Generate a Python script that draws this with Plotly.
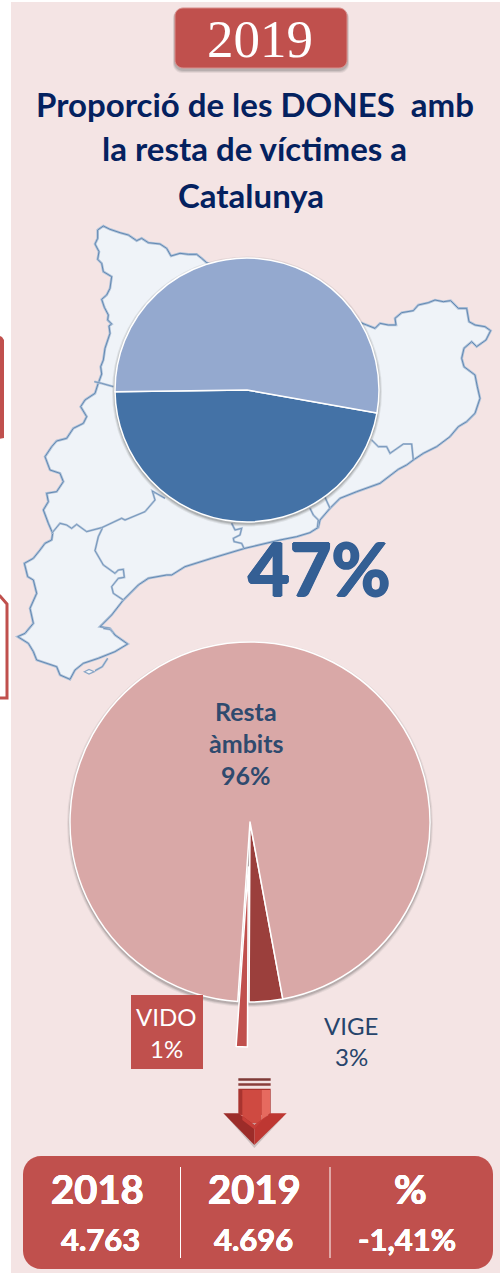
import plotly.graph_objects as go

W, H = 500, 1277
RED = "#C0504D"
BG = "#F4E4E4"
NAVY = "#04215F"

# --- data ---
year = "2019"
title_lines = ["Proporció de les DONES  amb", "la resta de víctimes a", "Catalunya"]
share_labels = ["DONES", "Resta"]
share_values = [47, 53]
share_text = "47%"
area_labels = ["VIGE", "VIDO", "Resta àmbits"]
area_values = [3, 1, 96]
table_head = ["2018", "2019", "%"]
table_vals = ["4.763", "4.696", "-1,41%"]

outer_runs = [
 (85, 220, [(50,462),(47,440),(55,420),(60,385),(75,340),(72,318),(80,312),(68,300),(70,285),(58,262),(50,238),(65,225),(75,205),(80,170),(55,155),(50,130),(38,118),(42,95),(30,72),(38,55),(38,30),(55,18),(75,28),(105,38),(130,45),(155,62),(170,55),(190,68),(225,72),(245,85),(258,108),(285,100),(310,103),(335,103),(350,115),(365,128)]),
 (360, 290, [(20,105),(45,115),(60,100),(85,105),(108,105),(105,85),(125,68),(160,62),(175,45),(205,38),(225,30),(250,35),(272,32),(295,55),(320,55),(327,95),(345,105),(375,110),(392,122),(378,150),(350,170),(335,155),(312,175),(305,205),(312,230),(345,255),(352,290),(360,325),(345,370),(320,395),(295,410),(270,440),(230,470),(190,490),(160,510),(140,525),(115,538)]),
 (170, 440, [(630,130),(560,155),(510,175),(480,205),(450,240),(445,262),(420,278),(380,290),(330,300),(225,325),(125,355)]),
 (15, 520, [(510,140),(470,165),(455,165),(400,175),(370,195),(325,240),(290,285),(255,320),(285,325),(300,345),(338,372),(300,395),(250,415),(205,430),(180,450),(165,478),(135,465),(125,440),(65,420),(55,395),(40,370),(8,350),(30,340),(55,310),(45,265),(65,220),(55,180),(38,170),(28,130),(55,115),(75,90),(90,70),(110,60),(113,40),(100,10)]),
 (15, 385, [(85,375),(100,350),(95,325),(125,320),(145,290),(135,265),(105,255),(90,215),(110,185),(125,168),(155,160),(175,130),(205,115),(215,95),(197,65),(210,45),(240,25),(248,0)]),
]
inner_runs = [
 (85, 220, [(28,485),(50,490),(85,500)]),
 (15, 385, [(110,445),(135,415),(155,420),(170,430),(185,418),(215,440),(260,428),(320,400),(330,405),(390,380),(420,345),(412,318),(450,340)]),
 (15, 520, [(262,25),(250,50),(240,92),(265,135),(300,160),(310,150),(325,148),(328,172),(310,175),(290,200),(295,220),(325,240)]),
 (15, 520, [(240,452),(262,440),(278,415)]),
 (15, 520, [(265,325),(285,328),(295,338)]),
 (360, 290, [(35,450),(55,470),(80,470),(90,490),(130,462),(155,462),(160,510)]),
 (170, 440, [(185,250),(195,270),(215,265),(210,285),(190,295),(192,305),(215,310),(222,325)]),
 (170, 440, [(420,205),(430,225),(445,240),(442,262)]),
 (170, 440, [(465,172),(480,205)]),
]
island = (15, 520, [(208,455),(222,448),(238,455),(222,462)])

def px(x): return x / W
def py(y): return 1 - y / H
def absrun(run): return [(run[0] + x / 3, run[1] + y / 3) for x, y in run[2]]

def poly(pts, close=True):
    s = "M" + " L".join(f"{px(x):.5f},{py(y):.5f}" for x, y in pts)
    return s + (" Z" if close else "")

def rrect_path(x0, y0, x1, y1, r):
    k = r * 0.45
    P = lambda x, y: f"{px(x):.5f},{py(y):.5f}"
    return (f"M{P(x0+r,y0)} L{P(x1-r,y0)} C{P(x1-k,y0)} {P(x1,y0+k)} {P(x1,y0+r)} "
            f"L{P(x1,y1-r)} C{P(x1,y1-k)} {P(x1-k,y1)} {P(x1-r,y1)} "
            f"L{P(x0+r,y1)} C{P(x0+k,y1)} {P(x0,y1-k)} {P(x0,y1-r)} "
            f"L{P(x0,y0+r)} C{P(x0,y0+k)} {P(x0+k,y0)} {P(x0+r,y0)} Z")

shapes = []
def rect(x0, y0, x1, y1, fill, line=None, lw=0, layer="below"):
    shapes.append(dict(type="rect", xref="paper", yref="paper", x0=px(x0), x1=px(x1), y0=py(y0), y1=py(y1),
                       fillcolor=fill, line=dict(color=line or fill, width=lw), layer=layer))
def path(d, fill=None, line=None, lw=0, layer="below", opacity=1):
    shapes.append(dict(type="path", xref="paper", yref="paper", path=d, fillcolor=fill or "rgba(0,0,0,0)",
                       line=dict(color=line or "rgba(0,0,0,0)", width=lw), layer=layer, opacity=opacity))
def circle(cx, cy, r, fill, opacity=1, layer="below"):
    shapes.append(dict(type="circle", xref="paper", yref="paper", x0=px(cx-r), x1=px(cx+r), y0=py(cy-r), y1=py(cy+r),
                       fillcolor=fill, line=dict(width=0), layer=layer, opacity=opacity))

# background panel
rect(11, 2, 500, 1273, BG)
# clipped neighbours at the left edge
path(poly([(-2,335),(2,337),(4,340),(4,438),(-2,439)]), fill=RED)
path(poly([(-4,596),(0,596),(7,604),(7,698),(-4,698)]), fill="#FFFFFF", line=RED, lw=3)

# header
for d, o in ((4, 0.10), (3, 0.14), (2, 0.18)):
    path(rrect_path(175-d/2, 8+1, 347+d/2, 69+d, 9), fill="#555555", opacity=o)
path(rrect_path(175, 8, 347, 68, 8), fill=RED, line="#D98F8D", lw=1)

# map
outer = [p for run in outer_runs for p in absrun(run)]
path(poly(outer), fill="#EFF3F8", line="#AFC2D9", lw=2.6)
path(poly(outer), line="#6389B3", lw=1)
for run in inner_runs:
    path(poly(absrun(run), close=False), line="#AFC2D9", lw=2.2)
    path(poly(absrun(run), close=False), line="#6F92B8", lw=0.9)
path(poly(absrun(island)), fill="#EFF3F8", line="#8AA6C6", lw=1.2)

# pie shadows
for d, o in ((3, 0.10), (2, 0.14), (1, 0.2)):
    circle(247, 391.5, 132 + d, "#444444", o)
for d, o in ((3, 0.08), (2, 0.12), (1, 0.18)):
    circle(250, 824, 180 + d, "#444444", o)

# arrow (points in the 3x crop at 215,1070)
Ap = lambda pts, **kw: path(poly([(215 + x/3, 1070 + y/3) for x, y in pts]), **kw)
Ap([(35,140),(205,140),(118,234)], fill="#555555", opacity=0.25)
Ap([(70,25),(167,25),(167,32),(70,32)], fill="#7E3936")
Ap([(70,40),(167,40),(167,47),(70,47)], fill="#8A3F3C")
Ap([(70,56),(167,56),(167,135),(70,135)], fill="#A8342F")
Ap([(82,60),(140,60),(140,160),(82,160)], fill="#CF4A41")
Ap([(140,60),(165,60),(165,130),(140,152)], fill="#E66A5F")
Ap([(25,130),(70,130),(118,165),(118,225)], fill="#9C2C29")
Ap([(215,130),(167,130),(118,165),(118,225)], fill="#BE3732")
Ap([(70,130),(82,135),(82,150),(118,178),(140,152),(167,130),(118,165)], fill="#C63E38")

# VIDO label box
rect(131, 995, 203, 1069, RED, layer="above")

# bottom table
path(rrect_path(23, 1156, 493, 1269, 18), fill=RED)
for x in (180.5, 330):
    rect(x-0.5, 1167, x+0.5, 1258, "#FFFFFF")

fig = go.Figure()
fig.add_trace(go.Pie(
    labels=share_labels, values=share_values, sort=False, direction="clockwise", rotation=100,
    marker=dict(colors=["#4472A6", "#94A9CF"], line=dict(color="#FFFFFF", width=1.5)),
    textinfo="none", hoverinfo="label+percent", showlegend=False,
    domain=dict(x=[px(247-132), px(247+132)], y=[py(390+132), py(390-132)]),
))
fig.add_trace(go.Pie(
    labels=area_labels, values=area_values, sort=False, direction="clockwise", rotation=169.5,
    pull=[0, 0.25, 0],
    marker=dict(colors=["#9B3F3C", "#C0504D", "#D9A8A7"], line=dict(color="#FFFFFF", width=1.5)),
    textinfo="none", hoverinfo="label+percent", showlegend=False,
    domain=dict(x=[px(250-225), px(250+225)], y=[py(822+225), py(822-225)]),
))

annotations = []
def text(x, y, s, size, color, family="Lato", bold=False, heavy=0):
    f = dict(size=size, color=color, family=family)
    if heavy:
        f["shadow"] = f"{heavy}px 0 0 {color}, -{heavy}px 0 0 {color}, 0 {heavy}px 0 {color}, 0 -{heavy}px 0 {color}"
    annotations.append(dict(xref="paper", yref="paper", x=px(x), y=py(y), xanchor="center", yanchor="middle",
                            text=f"<b>{s}</b>" if bold else s, showarrow=False, font=f))

text(260, 39, year, 53, "#FFFFFF", family="Liberation Serif")
for s, x, y in zip(title_lines, (255, 254, 251), (104, 148, 195)):
    text(x, y, s, 33, NAVY, bold=True)
text(319, 568, share_text, 72, "#345F94", bold=True, heavy=1)
text(246, 711, "Resta", 25, "#2F4A6E", bold=True)
text(246, 743, "àmbits", 25, "#2F4A6E", bold=True)
text(246, 775, f"{area_values[2]}%", 25, "#2F4A6E", bold=True)
text(166, 1017, area_labels[1], 24, "#FFFFFF")
text(166, 1048, f"{area_values[1]}%", 24, "#FFFFFF")
text(351, 1025, area_labels[0], 24, "#27446B")
text(351, 1056, f"{area_values[0]}%", 24, "#27446B")
for s, x in zip(table_head, (97, 254, 410)):
    text(x, 1189, s, 40, "#FFFFFF", bold=True, heavy=0.4)
for s, x in zip(table_vals, (100, 253, 407)):
    text(x, 1239, s, 31, "#FFFFFF", bold=True, heavy=0.3)

fig.update_layout(width=W, height=H, margin=dict(l=0, r=0, t=0, b=0), autosize=False,
                  paper_bgcolor="#FFFFFF", plot_bgcolor="#FFFFFF", shapes=shapes, annotations=annotations)
fig.write_html("out.html", config={"displayModeBar": False},
               post_script="document.body.style.margin='0';document.documentElement.style.overflow='hidden';")
